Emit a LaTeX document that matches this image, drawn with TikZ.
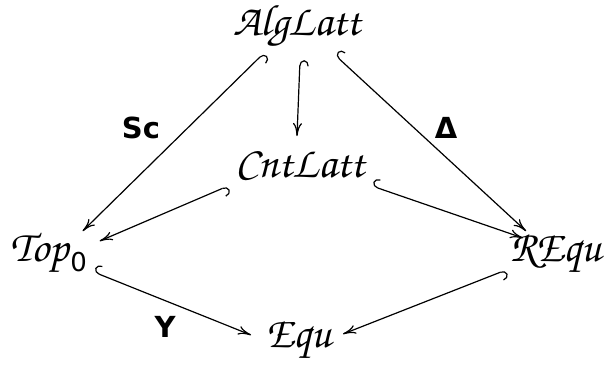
\documentclass[tikz,border=0pt]{standalone}
\usepackage[T1]{fontenc}
\usepackage{fontspec}
\setsansfont{DejaVu Sans}
\usetikzlibrary{arrows.meta,calc}
\newcommand{\chan}{\fontencoding{T1}\fontfamily{pzc}\fontseries{mb}\fontshape{it}\selectfont}
\tikzset{
  obj/.style={inner sep=0pt,font=\fontsize{22}{24}\chan},
  lbl/.style={inner sep=0pt,font=\fontsize{14.5}{16}\sffamily\bfseries},
  hk/.style={line width=0.6pt,{Hooks[right,length=3pt,width=9pt]}-{To[length=6.5pt,width=4.5pt]}}
}
\begin{document}
\begin{tikzpicture}[x=0.5pt,y=-0.5pt]
\useasboundingbox (0,0) rectangle (608,366);
\node[obj] (alg) at (297,27) {AlgLatt};
\node[obj] (cnt) at (300,164) {CntLatt};
\node[obj,anchor=west] (top) at (10,254) {Top\hspace{1pt}\raisebox{-5pt}{\fontsize{13}{15}\selectfont\sffamily 0}};
\node[obj] (requ) at (556,254) {REqu};
\node[obj] (equ) at (299,341) {Equ};
\node[lbl] (sc) at (141,128) {Sc};
\node[lbl] (dl) at (446,128) {Δ};
\node[lbl] (y) at (165,327) {Y};
\draw[hk] ($(alg)+(-33,26)$) -- ($(top.center)+(34,-23)$);
\draw[hk] ($(alg)+(3,33)$) -- ($(cnt)+(-3,-28)$);
\draw[hk] ($(alg)+(38,28)$) -- ($(requ)+(-30,-23)$);
\draw[hk] ($(cnt)+(-72,22)$) -- ($(top.center)+(51,-13)$);
\draw[hk] ($(cnt)+(72,22)$) -- ($(requ)+(-33,-16)$);
\draw[hk] ($(top.center)+(45,18)$) -- ($(equ)+(-48,-6)$);
\draw[hk] ($(requ)+(-50,16)$) -- ($(equ)+(44,-7)$);
\end{tikzpicture}
\end{document}
